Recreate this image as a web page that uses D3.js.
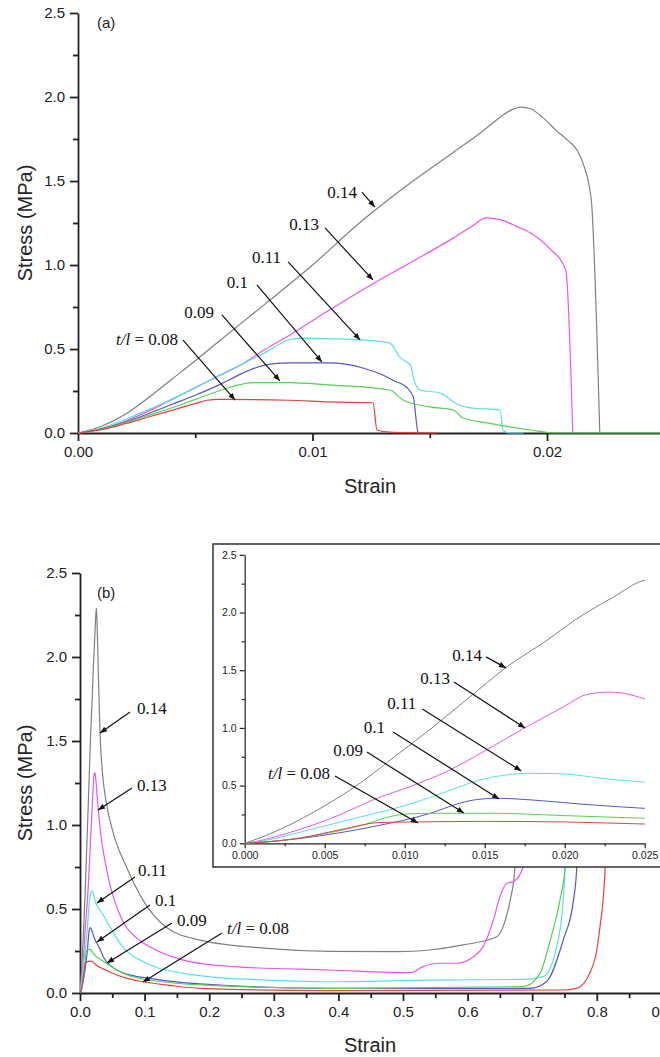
<!DOCTYPE html>
<html>
<head>
<meta charset="utf-8">
<script src="https://cdn.jsdelivr.net/npm/d3@7"></script>
<style>
  body { margin: 0; background: #fff; }
  svg { display: block; }
  .tick text { font-family: "Liberation Sans", Arial, sans-serif; fill: #222; }
  .ann { font-family: "Liberation Serif", "Times New Roman", serif; font-size: 17px; fill: #111; }
  .lab { font-family: "Liberation Sans", Arial, sans-serif; fill: #222; }
</style>
</head>
<body>
<script>
// t/l values, one colour each
var ratios = ["0.14", "0.13", "0.11", "0.1", "0.09", "0.08"];
var colors = ["#808080", "#ea55ea", "#55e0e8", "#5555cc", "#55d055", "#e84040"];

// panel (a): strain, stress (MPa)
var aGray = [[0,0],[0.001,0.04],[0.002,0.11],[0.003,0.21],[0.004,0.32],[0.005,0.43],[0.006,0.545],[0.008,0.77],[0.010,1.0],[0.012,1.25],[0.014,1.47],[0.016,1.67],[0.0172,1.79],[0.018,1.88],[0.0185,1.925],[0.0189,1.94],[0.0193,1.93],[0.0198,1.88],[0.0204,1.80],[0.0209,1.74],[0.0213,1.68],[0.0216,1.58],[0.0218,1.47],[0.0219,1.37],[0.02225,0]];
var aMagenta = [[0,0],[0.001,0.025],[0.002,0.07],[0.003,0.13],[0.004,0.2],[0.005,0.27],[0.006,0.34],[0.007,0.41],[0.008,0.5],[0.009,0.58],[0.0107,0.73],[0.0126,0.89],[0.014,1.0],[0.016,1.16],[0.0168,1.23],[0.0174,1.28],[0.018,1.27],[0.0187,1.23],[0.0193,1.19],[0.0201,1.10],[0.0208,0.97],[0.0211,0]];
var aCyan = [[0,0],[0.001,0.03],[0.002,0.08],[0.003,0.14],[0.004,0.2],[0.005,0.27],[0.006,0.34],[0.007,0.41],[0.008,0.48],[0.0086,0.53],[0.009,0.555],[0.0095,0.565],[0.011,0.56],[0.0125,0.55],[0.0133,0.535],[0.01373,0.45],[0.0142,0.40],[0.0143,0.33],[0.01458,0.256],[0.01544,0.238],[0.0162,0.17],[0.01672,0.15],[0.018,0.137],[0.01812,0.018],[0.0184,0],[0.019,0]];
var aBlue = [[0,0],[0.001,0.025],[0.002,0.065],[0.003,0.115],[0.004,0.17],[0.005,0.225],[0.006,0.285],[0.007,0.355],[0.0075,0.385],[0.008,0.405],[0.0085,0.414],[0.009,0.417],[0.0107,0.417],[0.01215,0.387],[0.013,0.345],[0.0135,0.31],[0.014,0.274],[0.0143,0.214],[0.0145,0.006],[0.0146,0]];
var aGreen = [[0,0],[0.001,0.022],[0.002,0.06],[0.003,0.105],[0.004,0.15],[0.005,0.2],[0.006,0.25],[0.0068,0.285],[0.0075,0.3],[0.009,0.3],[0.0107,0.286],[0.0133,0.256],[0.01386,0.196],[0.015,0.155],[0.016,0.137],[0.01642,0.089],[0.01744,0.06],[0.0193,0.018],[0.0204,0],[0.0255,0]];
var aRed = [[0,0],[0.001,0.02],[0.002,0.055],[0.003,0.095],[0.004,0.135],[0.005,0.175],[0.0055,0.195],[0.006,0.2],[0.009,0.195],[0.0107,0.185],[0.01258,0.18],[0.01275,0.018],[0.0133,0.005],[0.0153,0]];

// panel (b): strain, stress (MPa); the inset shows the same curves up to 0.025
var bGray = [[0,0],[0.00114,0.057],[0.0028,0.159],[0.0049,0.317],[0.0072,0.52],[0.0095,0.765],[0.0118,1.01],[0.014,1.26],[0.0164,1.53],[0.0189,1.76],[0.0207,1.94],[0.023,2.13],[0.025,2.28],[0.0255,2.29],[0.0268,2.15],[0.0284,1.9],[0.031,1.55],[0.035,1.3],[0.04,1.15],[0.0516,0.95],[0.072,0.75],[0.098,0.55],[0.134,0.39],[0.186,0.315],[0.289,0.266],[0.387,0.248],[0.49,0.246],[0.542,0.256],[0.593,0.286],[0.645,0.335],[0.655,0.395],[0.666,0.554],[0.673,0.732],[0.676,1.15],[0.68,1.8]];
var bMagenta = [[0,0],[0.0012,0.03],[0.0025,0.08],[0.0043,0.16],[0.006,0.25],[0.008,0.375],[0.0105,0.5],[0.0126,0.62],[0.015,0.80],[0.0175,1.0],[0.0199,1.18],[0.0214,1.29],[0.0228,1.31],[0.0237,1.30],[0.025,1.25],[0.0265,1.17],[0.0284,1.09],[0.032,0.95],[0.038,0.80],[0.046,0.65],[0.058,0.5],[0.072,0.39],[0.09,0.32],[0.108,0.275],[0.16,0.196],[0.237,0.157],[0.387,0.137],[0.511,0.121],[0.531,0.157],[0.557,0.177],[0.583,0.177],[0.609,0.216],[0.624,0.276],[0.64,0.435],[0.65,0.573],[0.661,0.653],[0.671,0.663],[0.686,0.75],[0.692,1.2]];
var bCyan = [[0,0],[0.0015,0.03],[0.0032,0.087],[0.0064,0.2],[0.0105,0.347],[0.0126,0.447],[0.0147,0.549],[0.0165,0.595],[0.0178,0.607],[0.02,0.60],[0.0225,0.56],[0.025,0.53],[0.03,0.5],[0.041,0.43],[0.05,0.37],[0.062,0.296],[0.075,0.24],[0.093,0.196],[0.12,0.15],[0.16,0.117],[0.22,0.09],[0.289,0.077],[0.387,0.067],[0.542,0.077],[0.686,0.081],[0.717,0.097],[0.738,0.276],[0.748,0.554],[0.751,0.752],[0.754,1.2]];
var bBlue = [[0,0],[0.002,0.02],[0.0043,0.057],[0.008,0.144],[0.0116,0.26],[0.0135,0.35],[0.0143,0.375],[0.0158,0.39],[0.018,0.375],[0.021,0.34],[0.025,0.303],[0.03,0.27],[0.036,0.216],[0.045,0.17],[0.057,0.137],[0.08,0.105],[0.108,0.0875],[0.186,0.054],[0.387,0.028],[0.697,0.028],[0.722,0.067],[0.748,0.315],[0.764,0.554],[0.769,0.752],[0.772,1.2]];
var bGreen = [[0,0],[0.002,0.02],[0.0043,0.065],[0.0074,0.159],[0.0092,0.235],[0.0102,0.255],[0.012,0.26],[0.0155,0.26],[0.02,0.24],[0.025,0.217],[0.032,0.2],[0.041,0.177],[0.06,0.13],[0.082,0.097],[0.12,0.07],[0.186,0.048],[0.387,0.028],[0.686,0.038],[0.712,0.117],[0.728,0.315],[0.743,0.554],[0.751,0.752],[0.754,1.2]];
var bRed = [[0,0],[0.0032,0.04],[0.0064,0.13],[0.0084,0.18],[0.0107,0.185],[0.015,0.19],[0.02,0.185],[0.025,0.167],[0.035,0.145],[0.046,0.125],[0.07,0.09],[0.098,0.067],[0.14,0.045],[0.186,0.028],[0.387,0.014],[0.748,0.018],[0.769,0.028],[0.789,0.117],[0.80,0.256],[0.805,0.395],[0.813,0.752],[0.816,1.2]];

var seriesA = [aGray, aMagenta, aCyan, aBlue, aGreen, aRed];
var seriesB = [bGray, bMagenta, bCyan, bBlue, bGreen, bRed];

// tick values
var yTicks = [0, 0.5, 1.0, 1.5, 2.0, 2.5];
var yMinor = [0.25, 0.75, 1.25, 1.75, 2.25];
var xTicksA = [0, 0.01, 0.02];
var xMinorA = [0.005, 0.015, 0.025];
var xTicksB = d3.range(0, 10).map(function(i) { return i / 10; });
var xMinorB = d3.range(0, 9).map(function(i) { return i / 10 + 0.05; });
var xTicksIn = [0, 0.005, 0.01, 0.015, 0.02, 0.025];
var xMinorIn = [0.0025, 0.0075, 0.0125, 0.0175, 0.0225];

// annotations: arrow tip in data units, arrow tail and text as pixel offsets from the tip
var notesA = [
  {t: ratios[0], tip: [0.01266, 1.345], from: [-13, -15], at: [-18, -9], anchor: "end"},
  {t: ratios[1], tip: [0.01258, 0.911], from: [-48, -52], at: [-54, -50], anchor: "end"},
  {t: ratios[2], tip: [0.01203, 0.554], from: [-72, -78], at: [-79, -77], anchor: "end"},
  {t: ratios[3], tip: [0.0104, 0.423], from: [-65, -77], at: [-74, -74], anchor: "end"},
  {t: ratios[4], tip: [0.00861, 0.31], from: [-58, -66], at: [-66, -63], anchor: "end"},
  {t: ratios[5], tip: [0.0067, 0.196], from: [-52, -60], at: [-57, -55], anchor: "end", first: true}
];
var notesB = [
  {t: ratios[0], tip: [0.031, 1.548], from: [30, -21], at: [37, -19], anchor: "start"},
  {t: ratios[1], tip: [0.0279, 1.089], from: [34, -22], at: [39, -19], anchor: "start"},
  {t: ratios[2], tip: [0.0263, 0.536], from: [38, -26], at: [41, -27], anchor: "start"},
  {t: ratios[3], tip: [0.0263, 0.304], from: [53, -37], at: [58, -36], anchor: "start"},
  {t: ratios[4], tip: [0.0418, 0.179], from: [65, -40], at: [70, -37], anchor: "start"},
  {t: ratios[5], tip: [0.0975, 0.065], from: [79, -49], at: [84, -48], anchor: "start", first: true}
];
var notesIn = [
  {t: ratios[0], tip: [0.01633, 1.52], from: [-20, -11], at: [-24, -7], anchor: "end"},
  {t: ratios[1], tip: [0.01752, 0.999], from: [-71, -46], at: [-75, -44], anchor: "end"},
  {t: ratios[2], tip: [0.01729, 0.627], from: [-99, -62], at: [-105, -62], anchor: "end"},
  {t: ratios[3], tip: [0.0159, 0.384], from: [-106, -67], at: [-114, -66], anchor: "end"},
  {t: ratios[4], tip: [0.0137, 0.262], from: [-97, -61], at: [-101, -57], anchor: "end"},
  {t: ratios[5], tip: [0.01083, 0.176], from: [-83, -47], at: [-88, -44], anchor: "end", first: true}
];

var W = 660, H = 1057;
var svg = d3.select("body").append("svg").attr("width", W).attr("height", H);
svg.append("rect").attr("width", W).attr("height", H).attr("fill", "#fff");

var defs = svg.append("defs");
defs.append("marker")
    .attr("id", "arrow")
    .attr("viewBox", "0 0 10 10")
    .attr("refX", 10).attr("refY", 5)
    .attr("markerWidth", 8).attr("markerHeight", 7)
    .attr("markerUnits", "userSpaceOnUse")
    .attr("orient", "auto")
  .append("path").attr("d", "M0,1 L10,5 L0,9 z").attr("fill", "#111");

function drawAxes(g, x, y, o) {
  var y0 = y.range()[0], x0 = x.range()[0];
  g.append("g").attr("transform", "translate(0," + y0 + ")")
      .call(d3.axisBottom(x).tickValues(o.xTicks).tickFormat(o.xFmt)
        .tickSize(o.tick).tickSizeOuter(0).tickPadding(o.pad));
  g.append("g").attr("transform", "translate(0," + y0 + ")")
      .call(d3.axisBottom(x).tickValues(o.xMinor).tickFormat("").tickSize(o.minor))
      .select(".domain").remove();
  g.append("g").attr("transform", "translate(" + x0 + ",0)")
      .call(d3.axisLeft(y).tickValues(yTicks).tickFormat(d3.format(".1f"))
        .tickSize(o.tick).tickSizeOuter(0).tickPadding(o.pad));
  g.append("g").attr("transform", "translate(" + x0 + ",0)")
      .call(d3.axisLeft(y).tickValues(yMinor).tickFormat("").tickSize(o.minor))
      .select(".domain").remove();
  g.selectAll(".domain, .tick line").attr("stroke", "#222").attr("stroke-width", o.sw);
  g.selectAll(".tick text").style("font-size", o.font + "px");
}

function drawLines(g, x, y, list, clipId, width) {
  var line = d3.line().curve(d3.curveMonotoneX)
      .x(function(d) { return x(d[0]); })
      .y(function(d) { return y(d[1]); });
  g.append("g").attr("clip-path", "url(#" + clipId + ")")
    .selectAll("path").data(list).enter().append("path")
      .attr("d", line)
      .attr("fill", "none")
      .attr("stroke", function(d, i) { return colors[i]; })
      .attr("stroke-width", width);
}

function drawNotes(g, x, y, notes) {
  notes.forEach(function(n) {
    var tx = x(n.tip[0]), ty = y(n.tip[1]);
    g.append("line")
      .attr("x1", tx + n.from[0]).attr("y1", ty + n.from[1])
      .attr("x2", tx).attr("y2", ty)
      .attr("stroke", "#111").attr("stroke-width", 1.2)
      .attr("marker-end", "url(#arrow)");
    var t = g.append("text").attr("class", "ann")
      .attr("x", tx + n.at[0]).attr("y", ty + n.at[1])
      .attr("text-anchor", n.anchor);
    if (n.first) {
      t.append("tspan").style("font-style", "italic").text("t/l");
      t.append("tspan").text(" = " + n.t);
    } else {
      t.text(n.t);
    }
  });
}

function clip(id, x0, y0, x1, y1) {
  defs.append("clipPath").attr("id", id)
    .append("rect").attr("x", x0).attr("y", y0).attr("width", x1 - x0).attr("height", y1 - y0);
}

// ---- panel (a)
var xa = d3.scaleLinear().domain([0, 0.025]).range([78, 664.25]);
var ya = d3.scaleLinear().domain([0, 2.5]).range([433, 13]);
var ga = svg.append("g");
clip("clipA", 78, 0, W, 436);
drawAxes(ga, xa, ya, {xTicks: xTicksA, xMinor: xMinorA, xFmt: d3.format(".2f"),
  tick: 8, minor: 5, pad: 5, sw: 1.8, font: 15});
drawLines(ga, xa, ya, seriesA, "clipA", 1.2);
drawNotes(ga, xa, ya, notesA);
ga.append("text").attr("class", "lab").attr("x", 97).attr("y", 28)
  .style("font-size", "15px").text("(a)");
ga.append("text").attr("class", "lab").attr("text-anchor", "middle")
  .attr("x", 370).attr("y", 493).style("font-size", "20px").text("Strain");
ga.append("text").attr("class", "lab").attr("text-anchor", "middle")
  .attr("transform", "translate(32,223) rotate(-90)")
  .style("font-size", "20px").text("Stress (MPa)");

// ---- panel (b)
var xb = d3.scaleLinear().domain([0, 0.9]).range([80, 661.4]);
var yb = d3.scaleLinear().domain([0, 2.5]).range([993, 573]);
var gb = svg.append("g");
clip("clipB", 80, 560, W, 996);
drawAxes(gb, xb, yb, {xTicks: xTicksB, xMinor: xMinorB, xFmt: d3.format(".1f"),
  tick: 8, minor: 5, pad: 5, sw: 1.8, font: 15});
drawLines(gb, xb, yb, seriesB, "clipB", 1.2);
drawNotes(gb, xb, yb, notesB);
gb.append("text").attr("class", "lab").attr("x", 97).attr("y", 598)
  .style("font-size", "15px").text("(b)");
gb.append("text").attr("class", "lab").attr("text-anchor", "middle")
  .attr("x", 370).attr("y", 1052).style("font-size", "20px").text("Strain");
gb.append("text").attr("class", "lab").attr("text-anchor", "middle")
  .attr("transform", "translate(32,783) rotate(-90)")
  .style("font-size", "20px").text("Stress (MPa)");

// ---- inset of (b)
var gi = svg.append("g");
gi.append("rect").attr("x", 213).attr("y", 544).attr("width", 460).attr("height", 323)
  .attr("fill", "#fff").attr("stroke", "#333").attr("stroke-width", 1.5);
var xi = d3.scaleLinear().domain([0, 0.025]).range([244.7, 644.7]);
var yi = d3.scaleLinear().domain([0, 2.5]).range([843.3, 554.8]);
clip("clipIn", 244.7, 550, 645, 845);
drawAxes(gi, xi, yi, {xTicks: xTicksIn, xMinor: xMinorIn, xFmt: d3.format(".3f"),
  tick: 5, minor: 3, pad: 3, sw: 1.2, font: 10.5});
drawLines(gi, xi, yi, seriesB, "clipIn", 1);
drawNotes(gi, xi, yi, notesIn);
</script>
</body>
</html>
